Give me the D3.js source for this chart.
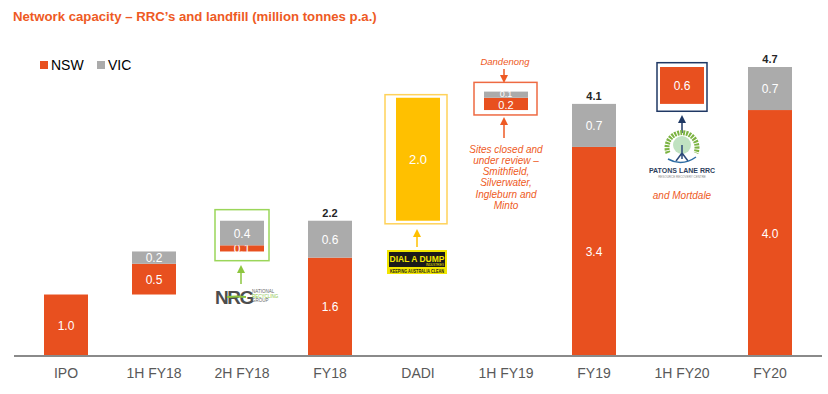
<!DOCTYPE html>
<html><head><meta charset="utf-8">
<script src="https://cdn.jsdelivr.net/npm/d3@7"></script>
<style>body{margin:0;background:#fff}svg{display:block;font-family:"Liberation Sans",Arial,sans-serif}</style>
</head><body><svg id="c" width="828" height="394"></svg>
<script>
const categories = ["IPO","1H FY18","2H FY18","FY18","DADI","1H FY19","FY19","1H FY20","FY20"];
const baseVals = [0, 1.0, 1.7, 0, 2.2, 4.0, 0, 4.1, 0];
const nswVals  = [1.0, 0.5, 0.1, 1.6, 0, 0.2, 3.4, 0.6, 4.0];
const vicVals  = [0, 0.2, 0.4, 0.6, 0, 0.1, 0.7, 0, 0.7];
const landfillVals = [0, 0, 0, 0, 2.0, 0, 0, 0, 0];
const totalVals = [null, null, null, 2.2, null, null, 4.1, null, 4.7];

const C = {nsw:"#E8501F", vic:"#ABABAB", dadi:"#FFC000"};
const svg = d3.select("#c");
const x = d3.scaleBand().domain(categories).range([22, 814]).paddingInner(0.5).paddingOuter(0.25);
const y = d3.scaleLinear().domain([0, 4.7]).range([356, 67]);

// title
svg.append("text").attr("x", 13).attr("y", 21).attr("fill", "#EE5A24").attr("font-weight", "bold")
  .attr("font-size", 13.2).text("Network capacity – RRC’s and landfill (million tonnes p.a.)");

// legend
const lg = svg.append("g");
[["NSW", C.nsw, 40], ["VIC", C.vic, 97]].forEach(([t, c, lx]) => {
  lg.append("rect").attr("x", lx).attr("y", 61).attr("width", 8).attr("height", 8).attr("fill", c);
  lg.append("text").attr("x", lx + 11).attr("y", 69.5).attr("font-size", 14).attr("fill", "#000").text(t);
});

const rows = categories.map((c, i) => ({c, base: baseVals[i], nsw: nswVals[i], vic: vicVals[i], lf: landfillVals[i], tot: totalVals[i]}));

// highlight frames (behind bars)
const frames = [
  {c: "2H FY18", col: "#9BD65A", x0: -5, x1: 5, top: 2.38, bot: 1.55},
  {c: "DADI", col: "#FFD25A", x0: -11, x1: 7, top: 4.25, bot: 2.15},
  {c: "1H FY19", col: "#EE6A42", x0: -10, x1: 9, top: 4.45, bot: 3.92},
  {c: "1H FY20", col: "#1F3864", x0: -3, x1: 3, top: 4.77, bot: 3.98}
];
frames.forEach(f => {
  svg.append("rect").attr("x", x(f.c) + f.x0).attr("y", y(f.top))
    .attr("width", x.bandwidth() - f.x0 + f.x1).attr("height", y(f.bot) - y(f.top))
    .attr("fill", "none").attr("stroke", f.col).attr("stroke-width", 1.5);
});

const bars = svg.append("g");
rows.forEach(d => {
  const bx = x(d.c), bw = x.bandwidth(), cx = bx + bw / 2;
  const small = d.nsw + d.vic < 0.35;
  const fs = small ? 11 : 12;
  let b = d.base;
  if (d.lf > 0) {
    bars.append("rect").attr("x", bx).attr("y", y(b + d.lf)).attr("width", bw).attr("height", y(b) - y(b + d.lf)).attr("fill", C.dadi);
    bars.append("text").attr("x", cx).attr("y", (y(b) + y(b + d.lf)) / 2 + 5).attr("text-anchor", "middle")
      .attr("fill", "#fff").attr("font-size", 13).text(d.lf.toFixed(1));
    b += d.lf;
  }
  if (d.nsw > 0) {
    bars.append("rect").attr("x", bx).attr("y", y(b + d.nsw)).attr("width", bw).attr("height", y(b) - y(b + d.nsw)).attr("fill", C.nsw);
    bars.append("text").attr("x", cx).attr("y", (y(b) + y(b + d.nsw)) / 2 + (small ? 5 : 4.5)).attr("text-anchor", "middle")
      .attr("fill", "#fff").attr("font-size", fs).text(d.nsw.toFixed(1));
    b += d.nsw;
  }
  if (d.vic > 0) {
    bars.append("rect").attr("x", bx).attr("y", y(b + d.vic)).attr("width", bw).attr("height", y(b) - y(b + d.vic)).attr("fill", C.vic);
    bars.append("text").attr("x", cx).attr("y", (y(b) + y(b + d.vic)) / 2 + (small ? 2.5 : 4.5)).attr("text-anchor", "middle")
      .attr("fill", "#fff").attr("font-size", small ? 9 : fs).text(d.vic.toFixed(1));
    b += d.vic;
  }
  if (d.tot != null) {
    bars.append("text").attr("x", cx).attr("y", y(d.tot) - 4).attr("text-anchor", "middle")
      .attr("fill", "#262626").attr("font-weight", "bold").attr("font-size", 11).text(d.tot.toFixed(1));
  }
});

// axis
const ax = svg.append("g").attr("transform", "translate(0,356)")
  .call(d3.axisBottom(x).tickSize(0).tickPadding(12));
ax.select(".domain").remove();
ax.selectAll("text").attr("font-size", 14).attr("fill", "#595959").attr("font-family", '"Liberation Sans",Arial,sans-serif');
svg.append("line").attr("x1", 14).attr("x2", 822).attr("y1", 356).attr("y2", 356).attr("stroke", "#8A8A8A").attr("stroke-width", 2);

// arrows
function arrow(cx, yTail, yHead, col) {
  const dir = yHead < yTail ? 1 : -1;
  svg.append("line").attr("x1", cx).attr("x2", cx).attr("y1", yTail).attr("y2", yHead + dir * 6).attr("stroke", col).attr("stroke-width", 1.5);
  svg.append("path").attr("d", `M${cx},${yHead} L${cx - 4},${yHead + dir * 8} L${cx + 4},${yHead + dir * 8} Z`).attr("fill", col);
}
const cxOf = c => x(c) + x.bandwidth() / 2;
arrow(cxOf("2H FY18") - 1, 284, 265, "#8DC63F");
arrow(cxOf("DADI") - 1, 247, 229, "#FFC000");
arrow(cxOf("1H FY19") - 2, 69, 83, "#EE5A24");
arrow(cxOf("1H FY19") - 2, 138, 117, "#EE5A24");
arrow(cxOf("1H FY20"), 133, 115, "#1F3864");

// annotations
const it = (tx, ty, t, fs) => svg.append("text").attr("x", tx).attr("y", ty).attr("text-anchor", "middle")
  .attr("font-style", "italic").attr("font-size", fs).attr("fill", "#EE5A24").text(t);
it(cxOf("1H FY19") - 1, 65, "Dandenong", 9.5);
["Sites closed and", "under review –", "Smithfield,", "Silverwater,", "Ingleburn and", "Minto"]
  .forEach((t, i) => it(cxOf("1H FY19"), 152.5 + i * 11.3, t, 10));
it(cxOf("1H FY20"), 199, "and Mortdale", 10);

// NRG logo
const nrg = svg.append("g").attr("transform", `translate(${cxOf("2H FY18") - 27},304)`);
nrg.append("text").attr("x", 0).attr("y", 0).attr("font-size", 19).attr("font-weight", "bold")
  .attr("letter-spacing", -1.5).attr("fill", "#4D4D4D").text("NRG");
nrg.append("path").attr("d", "M12,-7 Q21,-8 31,-7").attr("stroke", "#8DC63F").attr("stroke-width", 2.2).attr("fill", "none");
[["NATIONAL", "#666", -11], ["RECYCLING", "#8DC63F", -6.5], ["GROUP", "#666", -2]].forEach(([t, c, yy]) =>
  nrg.append("text").attr("x", 37).attr("y", yy).attr("font-size", 4.5).attr("fill", c).text(t));

// DADI logo
const dd = svg.append("g").attr("transform", `translate(${cxOf("DADI") - 31},250)`);
dd.append("rect").attr("width", 60).attr("height", 24).attr("fill", "#F2E600");
dd.append("rect").attr("x", 2).attr("y", 2).attr("width", 56).attr("height", 15).attr("fill", "#1A1A1A");
dd.append("text").attr("x", 30).attr("y", 11.5).attr("text-anchor", "middle").attr("font-size", 8.5).attr("font-weight", "bold").attr("fill", "#F2E600").text("DIAL A DUMP");
dd.append("text").attr("x", 48).attr("y", 16).attr("text-anchor", "middle").attr("font-size", 3).attr("fill", "#F2E600").text("INDUSTRIES");
dd.append("text").attr("x", 30).attr("y", 22.5).attr("text-anchor", "middle").attr("font-size", 4.6).attr("font-weight", "bold")
  .attr("textLength", 54).attr("lengthAdjust", "spacingAndGlyphs").attr("fill", "#1A1A1A").text("KEEPING AUSTRALIA CLEAN");

// Patons Lane logo
const pl = svg.append("g").attr("transform", `translate(${cxOf("1H FY20")},135)`);
pl.append("path").attr("d", "M-14,18 A15,15 0 1 1 14,18").attr("fill", "none").attr("stroke", "#7CB342").attr("stroke-width", 5).attr("stroke-dasharray", "2,1");
pl.append("circle").attr("cx", 0).attr("cy", 10).attr("r", 9).attr("fill", "#A5D6A7").attr("opacity", 0.7);
pl.append("path").attr("d", "M0,10 L0,24 M0,18 L-6,26 M0,18 L6,26").attr("stroke", "#2E4A7A").attr("stroke-width", 1.5).attr("fill", "none");
pl.append("path").attr("d", "M-14,24 Q0,32 14,22").attr("stroke", "#2E6DA4").attr("stroke-width", 1.5).attr("fill", "none");
pl.append("text").attr("x", 0).attr("y", 38).attr("text-anchor", "middle").attr("font-size", 7).attr("font-weight", "bold").attr("fill", "#2E3E5C").text("PATONS LANE RRC");
pl.append("text").attr("x", 0).attr("y", 43).attr("text-anchor", "middle").attr("font-size", 3).attr("fill", "#888").text("RESOURCE RECOVERY CENTRE");
</script></body></html>
